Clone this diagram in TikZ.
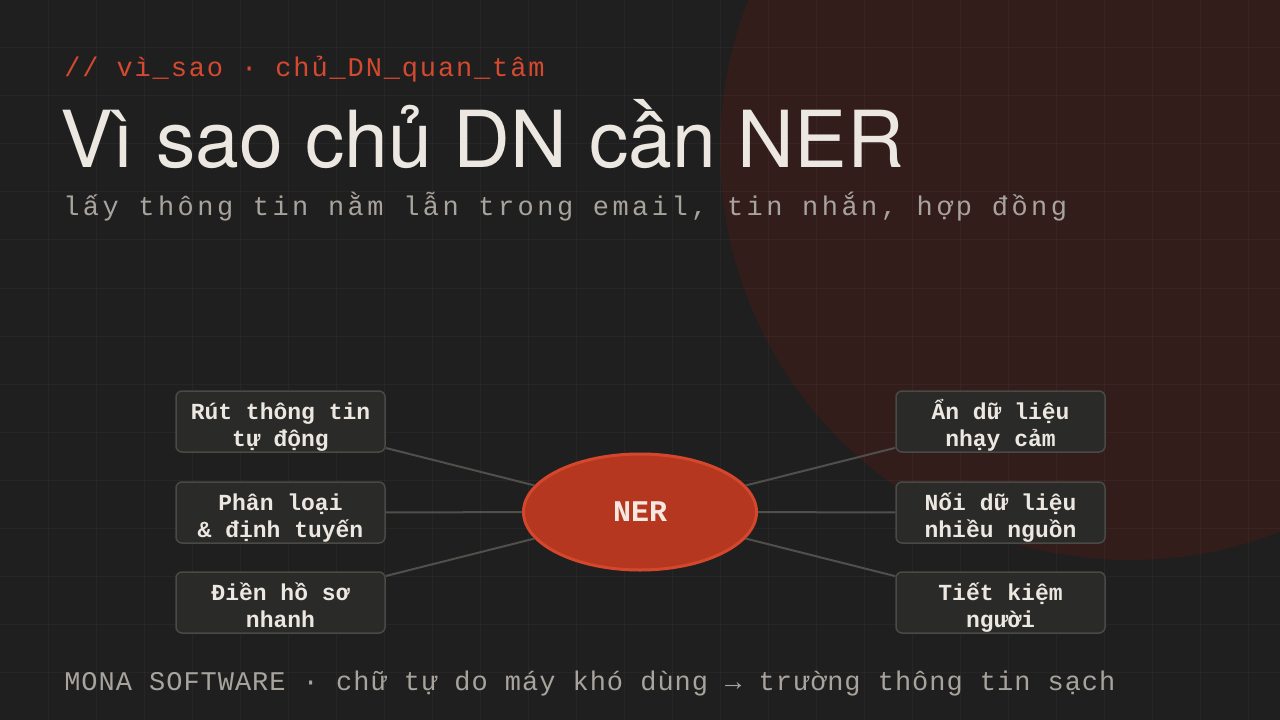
\documentclass[tikz,border=0pt]{standalone}
\usepackage{fontspec}
\usetikzlibrary{shapes.geometric}
\setmainfont{TeX Gyre Heros}
\newfontfamily\titlefont{TeX Gyre Heros}
\newfontfamily\monohead[LetterSpace=6.9]{Liberation Mono}
\newfontfamily\monosub[LetterSpace=12.8]{Liberation Mono}
\newfontfamily\monofoot[LetterSpace=3.6]{Liberation Mono}
\newfontfamily\monobox{Liberation Mono}
\newfontfamily\mononer{Liberation Mono}
\definecolor{bgc}{HTML}{1F1F1F}
\definecolor{circc}{HTML}{321D1B}
\definecolor{redc}{HTML}{D4492F}
\definecolor{titlec}{HTML}{ECE8E1}
\definecolor{subc}{HTML}{A8A49D}
\definecolor{boxfill}{HTML}{2A2A28}
\definecolor{boxline}{HTML}{4A4945}
\definecolor{linkc}{HTML}{504F4B}
\definecolor{nerfill}{HTML}{B5371F}
\definecolor{nerline}{HTML}{D4472D}
\definecolor{nertext}{HTML}{F5E8E0}
\newdimen\PX
\PX=0.75pt
\tikzset{
  txt/.style={inner sep=0pt, anchor=base west},
  featbox/.style={draw=boxline, fill=boxfill, line width=1.5\PX, rounded corners=6\PX,
    minimum width=209\PX, minimum height=61\PX, inner sep=0pt, align=center,
    text height=50\PX, text depth=0\PX,
    text=titlec, font=\monobox\bfseries\fontsize{17.25pt}{20.25pt}\selectfont},
  nerbox/.style={ellipse, draw=nerline, fill=nerfill, line width=3\PX,
    minimum width=233\PX, minimum height=116\PX, inner sep=0pt,
    text=nertext, font=\mononer\bfseries\fontsize{22.5pt}{27pt}\selectfont},
  link/.style={draw=linkc, line width=2\PX}
}
\begin{document}
\begin{tikzpicture}[x=0.75pt, y=-0.75pt]
\useasboundingbox (0,0) rectangle (1280,720);
\fill[bgc] (0,0) rectangle (1280,720);
\begin{scope}
\clip (0,0) rectangle (1280,720);
\fill[circc] (1130,150) circle[radius=410];
\end{scope}
% grid
\foreach \gx in {48,96,...,1272} { \draw[white, opacity=0.035, line width=1\PX] (\gx,0) -- (\gx,720); }
\foreach \gy in {48,96,...,719} { \draw[white, opacity=0.035, line width=1\PX] (0,\gy) -- (1280,\gy); }
% header texts
\node[txt, text=redc, font=\monohead\fontsize{20.25pt}{24pt}\selectfont] (hdr) at (64,77) {// vì\_sao · chủ\_DN\_quan\_tâm};
\node[txt, text=titlec, font=\titlefont\fontsize{59pt}{70pt}\selectfont] (ttl) at (60,168) {Vì sao chủ DN cần NER};
\node[txt, text=subc, font=\monosub\fontsize{20.25pt}{24pt}\selectfont] (sub) at (63,215) {lấy thông tin nằm lẫn trong email, tin nhắn, hợp đồng};
\node[txt, text=subc, font=\monofoot\fontsize{20.25pt}{24pt}\selectfont] (ftr) at (64,690) {MONA SOFTWARE · chữ tự do máy khó dùng → trường thông tin sạch};
% nodes
\node[featbox] (l1) at (280.5,421.5) {Rút thông tin\\tự động};
\node[featbox] (l2) at (280.5,512.5) {Phân loại\\\& định tuyến};
\node[featbox] (l3) at (280.5,602.5) {Điền hồ sơ\\nhanh};
\node[featbox] (r1) at (1000.5,421.5) {Ẩn dữ liệu\\nhạy cảm};
\node[featbox] (r2) at (1000.5,512.5) {Nối dữ liệu\\nhiều nguồn};
\node[featbox] (r3) at (1000.5,602.5) {Tiết kiệm\\người};
\node[nerbox] (ner) at (640,512) {NER};
% links
\draw[link] (l1) -- (ner);
\draw[link] (l2) -- (ner);
\draw[link] (l3) -- (ner);
\draw[link] (r1) -- (ner);
\draw[link] (r2) -- (ner);
\draw[link] (r3) -- (ner);
\end{tikzpicture}
\end{document}
